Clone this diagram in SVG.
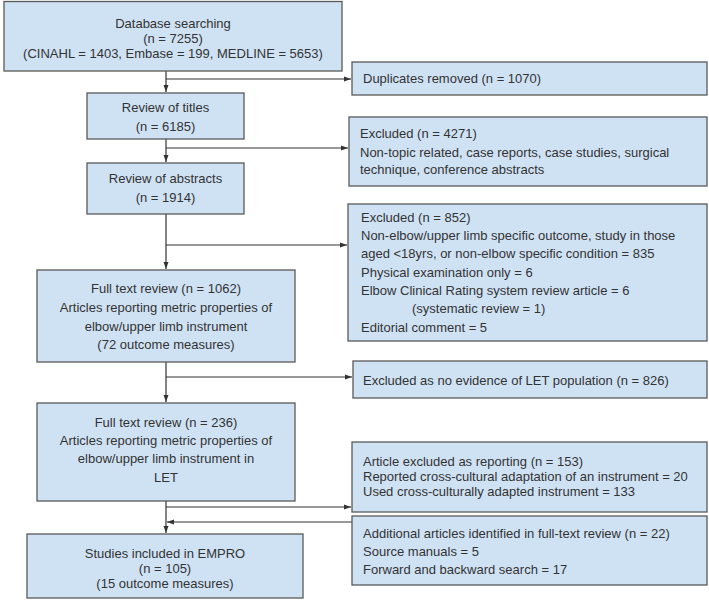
<svg xmlns="http://www.w3.org/2000/svg" width="709" height="601" viewBox="0 0 709 601">
<style>
.b{fill:#cfe2f3;stroke:#595959;stroke-width:1.3}
text{font-family:"Liberation Sans",Arial,sans-serif;font-size:13px;fill:#333}
.c{text-anchor:middle}
.l{stroke:#333;stroke-width:1.2;fill:none}
</style>
<defs>
<marker id="a" markerWidth="8" markerHeight="8" refX="7" refY="4" orient="auto" markerUnits="userSpaceOnUse">
<path d="M0,1.5 L7,4 L0,6.5 Z" fill="#333"/>
</marker>
</defs>
<rect width="709" height="601" fill="#fff"/>
<g id="connectors">
<path class="l" d="M166,71 V92" marker-end="url(#a)"/>
<path class="l" d="M166,79 H351" marker-end="url(#a)"/>
<path class="l" d="M166,139 V162" marker-end="url(#a)"/>
<path class="l" d="M166,148 H348" marker-end="url(#a)"/>
<path class="l" d="M166,214 V269" marker-end="url(#a)"/>
<path class="l" d="M166,245 H347" marker-end="url(#a)"/>
<path class="l" d="M166,362 V402" marker-end="url(#a)"/>
<path class="l" d="M166,377 H352" marker-end="url(#a)"/>
<path class="l" d="M166,501 V533" marker-end="url(#a)"/>
<path class="l" d="M166,507 H351" marker-end="url(#a)"/>
<path class="l" d="M352,522 H167" marker-end="url(#a)"/>
</g>
<g id="n1"><rect class="b" x="4" y="1.5" width="338" height="69.5"/>
<text class="c" x="173" y="28">Database searching</text>
<text class="c" x="173" y="43">(n = 7255)</text>
<text class="c" x="173" y="58">(CINAHL = 1403, Embase = 199, MEDLINE = 5653)</text></g>
<g id="n2"><rect class="b" x="87" y="93" width="157" height="46"/>
<text class="c" x="165.5" y="112">Review of titles</text>
<text class="c" x="165.5" y="131">(n = 6185)</text></g>
<g id="n3"><rect class="b" x="87" y="163" width="157" height="51"/>
<text class="c" x="165.5" y="183">Review of abstracts</text>
<text class="c" x="165.5" y="202">(n = 1914)</text></g>
<g id="n4"><rect class="b" x="37" y="270" width="258" height="92"/>
<text class="c" x="166" y="293">Full text review (n = 1062)</text>
<text class="c" x="166" y="312">Articles reporting metric properties  of</text>
<text class="c" x="166" y="331">elbow/upper limb instrument</text>
<text class="c" x="166" y="349">(72 outcome measures)</text></g>
<g id="n5"><rect class="b" x="37" y="403" width="258" height="98"/>
<text class="c" x="166" y="427">Full text review (n = 236)</text>
<text class="c" x="166" y="445">Articles reporting metric properties of</text>
<text class="c" x="166" y="463">elbow/upper limb instrument in</text>
<text class="c" x="166" y="482">LET</text></g>
<g id="n6"><rect class="b" x="27" y="534" width="276" height="64"/>
<text class="c" x="165" y="558">Studies included in EMPRO</text>
<text class="c" x="165" y="573">(n = 105)</text>
<text class="c" x="165" y="588">(15 outcome measures)</text></g>
<g id="d1"><rect class="b" x="352" y="62" width="355" height="33"/>
<text x="363" y="83">Duplicates removed  (n = 1070)</text></g>
<g id="d2"><rect class="b" x="349" y="117" width="358" height="69"/>
<text x="360" y="138">Excluded (n = 4271)</text>
<text x="360" y="157">Non-topic related, case reports, case studies, surgical</text>
<text x="360" y="174">technique, conference abstracts</text></g>
<g id="d3"><rect class="b" x="348" y="204" width="359" height="137"/>
<text x="361" y="222">Excluded (n = 852)</text>
<text x="361" y="240">Non-elbow/upper limb specific outcome, study in those</text>
<text x="361" y="258">aged &lt;18yrs, or non-elbow specific condition = 835</text>
<text x="361" y="277">Physical examination only = 6</text>
<text x="361" y="295">Elbow Clinical Rating system review article = 6</text>
<text x="412" y="313">(systematic review = 1)</text>
<text x="361" y="332">Editorial comment = 5</text></g>
<g id="d4"><rect class="b" x="353" y="361" width="354" height="37"/>
<text x="363" y="385">Excluded as no evidence of LET population (n = 826)</text></g>
<g id="d5"><rect class="b" x="352" y="442" width="355" height="70"/>
<text x="363" y="466">Article excluded as reporting (n = 153)</text>
<text x="363" y="481">Reported cross-cultural adaptation of an instrument = 20</text>
<text x="363" y="496">Used cross-culturally adapted instrument = 133</text></g>
<g id="d6"><rect class="b" x="352" y="516" width="355" height="69"/>
<text x="363" y="538">Additional articles identified in full-text review (n = 22)</text>
<text x="363" y="556">Source manuals = 5</text>
<text x="363" y="574">Forward and backward search = 17</text></g>
</svg>
